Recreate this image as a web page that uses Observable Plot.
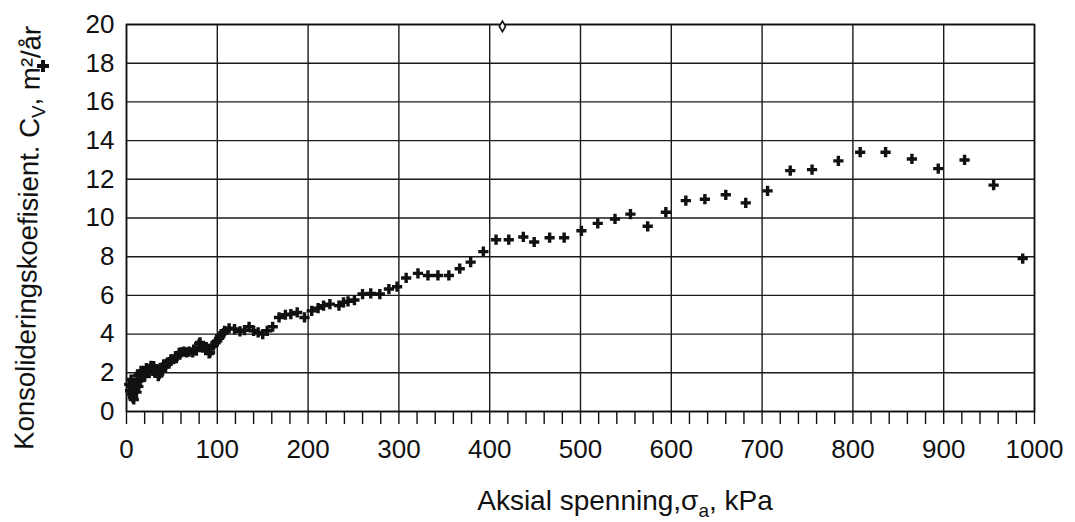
<!DOCTYPE html>
<html><head><meta charset="utf-8">
<script src="https://cdn.jsdelivr.net/npm/d3@7"></script>
<script src="https://cdn.jsdelivr.net/npm/@observablehq/plot@0.6"></script>
<style>body{margin:0;background:#fff}</style>
</head><body><div id="chart"></div>
<script>
// Aksial spenning (kPa)
const stress = [3,4,5,5,6,7,7,8,9,10,11,12,12,13,14,15,16,16,18,19,20,22,23,25,27,27,29,30,32,33,35,36,38,40,41,43,44,45,47,49,49,52,54,55,58,60,63,66,69,73,74,77,80,81,84,87,88,91,92,95,96,98,100,
102,103,107,108,113,119,125,130,135,140,145,150,155,161,168,175,181,188,196,204,211,217,224,234,239,244,251,260,269,279,289,298,
308,321,332,343,355,367,379,393,407,421,437,449,466,482,501,519,538,555,574,594,616,637,660,682,706,731,755,784,808,836,865,894,923,955,987];
// Konsolideringskoeffisient Cv (m2/år)
const cv = [1.4,1.07,1.65,1.3,0.9,1.05,0.72,0.62,1.41,1.22,1.0,1.57,1.84,1.3,1.9,1.6,1.74,2.1,1.95,2.1,1.8,2.24,2.17,2.0,2.26,2.36,2.1,2.35,2.0,2.19,1.83,1.93,2.1,2.28,2.43,2.3,2.45,2.5,2.55,2.7,2.62,2.7,2.86,2.76,3.03,3.05,3.1,3.05,3.1,3.05,3.2,3.15,3.5,3.57,3.3,3.33,3.31,3.0,3.05,3.4,3.43,3.55,3.65,
3.78,3.9,4.05,4.17,4.3,4.26,4.14,4.2,4.38,4.17,4.09,4.0,4.17,4.38,4.86,5.0,5.03,5.12,4.86,5.2,5.34,5.47,5.55,5.47,5.64,5.69,5.76,6.07,6.1,6.07,6.33,6.45,
6.9,7.14,7.03,7.03,7.03,7.38,7.72,8.26,8.88,8.88,9.02,8.76,8.98,8.98,9.34,9.72,9.95,10.2,9.57,10.3,10.9,10.97,11.2,10.78,11.4,12.45,12.5,12.95,13.4,13.4,13.05,12.55,13.0,11.7,7.9];
// separate outlier (open diamond)
const outlierStress = [414];
const outlierCv = [19.9];

const xTicks = d3.range(0, 1001, 100);
const xMinorTicks = d3.range(0, 1001, 20);
const yTicks = d3.range(0, 21, 2);

const points = stress.map((x, i) => ({x, y: cv[i]}));
const outliers = outlierStress.map((x, i) => ({x, y: outlierCv[i]}));

const font = "'Liberation Sans', Arial, sans-serif";
const chart = Plot.plot({
  width: 1075, height: 522,
  marginLeft: 126, marginRight: 41, marginTop: 24, marginBottom: 111,
  style: {fontFamily: font, fontSize: "26px", color: "#111", background: "#fff"},
  x: {domain: [0, 1000]},
  y: {domain: [0, 20]},
  marks: [
    Plot.gridX(xTicks, {stroke: "#1a1a1a", strokeOpacity: 1, strokeWidth: 1.4}),
    Plot.gridY(yTicks, {stroke: "#1a1a1a", strokeOpacity: 1, strokeWidth: 1.4}),
    Plot.frame({stroke: "#111", strokeWidth: 1.6}),
    Plot.axisX({ticks: xMinorTicks, tickSize: 13, tickPadding: 15, strokeWidth: 1.4,
      tickFormat: d => d % 100 === 0 ? String(d) : "", label: null}),
    Plot.axisY({ticks: yTicks, tickSize: 0, tickPadding: 12, label: null}),
    Plot.dot(points, {x: "x", y: "y", symbol: "cross", r: 4.3, fill: "#111", stroke: "none"}),
    Plot.dot(outliers, {x: "x", y: "y", symbol: "diamond", r: 3.2, fill: "#fff", stroke: "#111", strokeWidth: 1.6})
  ]
});
document.getElementById("chart").append(chart);

const svg = d3.select(chart);
// y title
const yt = svg.append("text")
  .attr("transform", "translate(37,238) rotate(-89)")
  .attr("text-anchor", "middle")
  .style("font-family", font).style("font-size", "27.5px").attr("fill", "#111");
yt.append("tspan").text("Konsolideringskoefisient. C");
yt.append("tspan").attr("dy", 6).style("font-size", "19px").text("V");
yt.append("tspan").attr("dy", -6).text(", m²/år");
// legend-like cross over the y title
svg.append("path")
  .attr("d", d3.symbol(d3.symbolCross, 80)())
  .attr("transform", "translate(43,66)")
  .attr("fill", "#111");
// x title
const xt = svg.append("text")
  .attr("x", 625).attr("y", 510)
  .attr("text-anchor", "middle")
  .style("font-family", font).style("font-size", "28px").attr("fill", "#111");
xt.append("tspan").text("Aksial spenning,σ");
xt.append("tspan").attr("dy", 7).style("font-size", "19px").text("a");
xt.append("tspan").attr("dy", -7).text(", kPa");
</script>
</body></html>
